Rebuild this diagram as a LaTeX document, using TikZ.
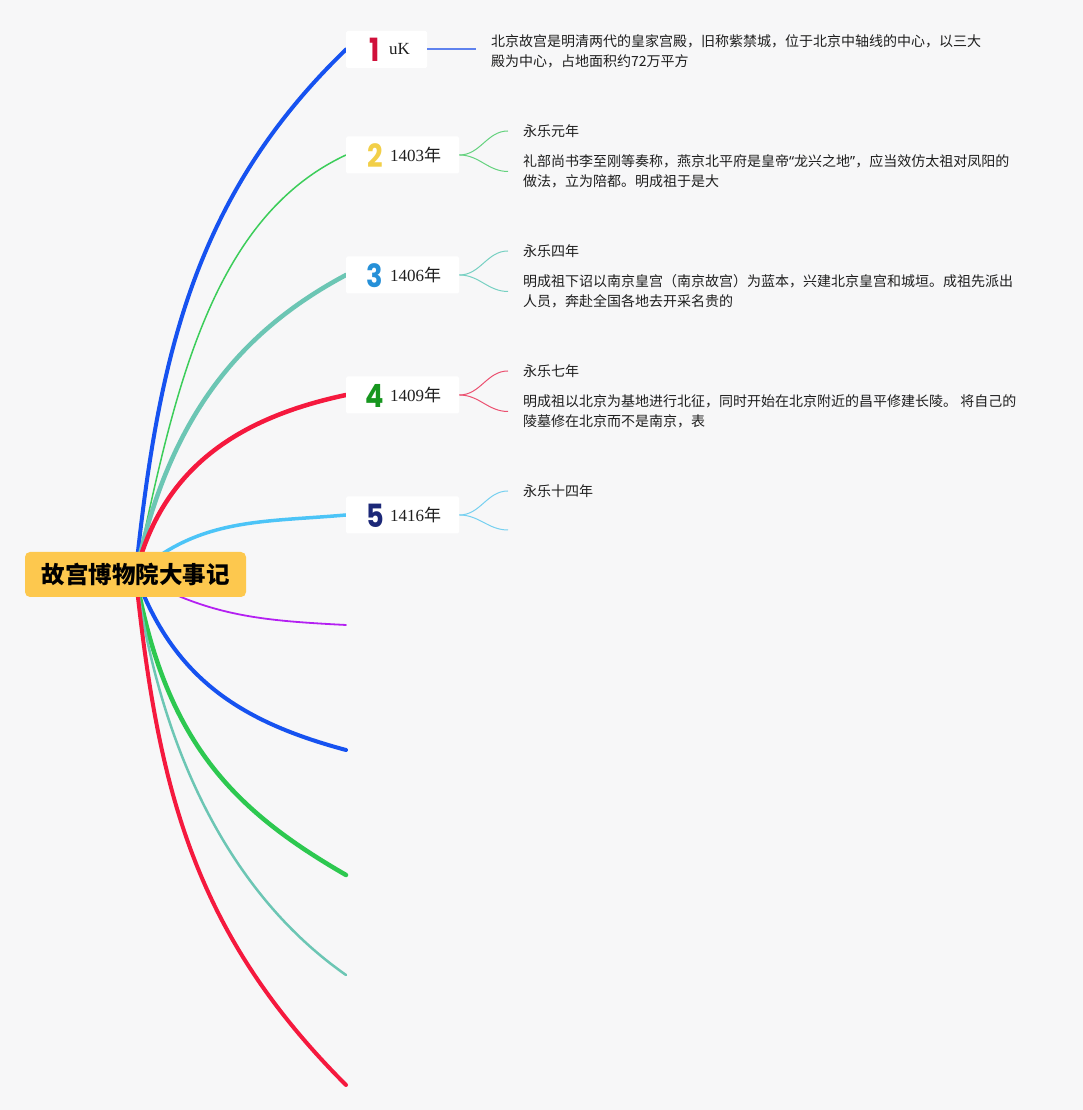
\documentclass[tikz,border=0pt]{standalone}
\usepackage{fontspec}
\usepackage{graphicx}
\setmainfont{Liberation Serif}
\newfontfamily\cjk{Noto Sans CJK SC}
\newfontfamily\latq{Noto Sans}
\newfontfamily\numf{Poppins}
\pgfdeclarelayer{paper}
\pgfdeclarelayer{wires}
\pgfsetlayers{paper,wires,main}
\definecolor{bgc}{RGB}{247,247,248}
\definecolor{rootc}{RGB}{253,200,78}
\definecolor{txtc}{RGB}{30,30,30}
\definecolor{cblue}{RGB}{22,82,240}
\definecolor{cgreenA}{RGB}{60,205,90}
\definecolor{cgreenB}{RGB}{45,200,80}
\definecolor{cteal}{RGB}{108,198,180}
\definecolor{cred}{RGB}{245,25,62}
\definecolor{clblue}{RGB}{76,196,247}
\definecolor{cpurple}{RGB}{180,32,242}
\definecolor{subA}{RGB}{95,130,238}
\definecolor{subB}{RGB}{100,210,126}
\definecolor{subC}{RGB}{118,208,194}
\definecolor{subD}{RGB}{235,80,112}
\definecolor{subE}{RGB}{118,208,240}
\definecolor{dA}{RGB}{208,16,58}
\definecolor{dB}{RGB}{242,207,72}
\definecolor{dC}{RGB}{38,144,216}
\definecolor{dD}{RGB}{23,150,31}
\definecolor{dE}{RGB}{28,40,120}
\newcommand{\dg}[1]{\scalebox{0.85}[1]{#1}}
\newcommand{\qopen}{{\latq “}}
\newcommand{\qclose}{{\latq ”}}
\begin{document}
\begin{tikzpicture}[x=1pt,y=1pt,
  rootbox/.style={fill=rootc,rounded corners=5pt,minimum width=221pt,minimum height=45pt,
    inner sep=0pt,font=\cjk\bfseries\fontsize{23.5}{28}\selectfont,text=black},
  tbox/.style={fill=white,rounded corners=1.5pt,minimum height=37pt,anchor=west,inner sep=0pt},
  digit/.style={font=\numf\bfseries\fontsize{32}{32}\selectfont,inner sep=0pt},
  lab/.style={font=\rmfamily\fontsize{17}{19}\selectfont,anchor=west,inner sep=0pt,text=txtc},
  txt/.style={font=\cjk\fontsize{14}{20}\selectfont,anchor=west,inner xsep=15pt,inner ysep=0pt,
    align=left,text=txtc},
  br/.style={line cap=round},
  subc/.style={line width=1pt}
]
\begin{pgfonlayer}{paper}
\fill[bgc] (0,0) rectangle (1083,1110);
\end{pgfonlayer}
\useasboundingbox (0,0) rectangle (1083,1110);

% root
\node[rootbox] (root) at (135.5,535.5) {故宫博物院大事记};

% topic boxes
\node[tbox,minimum width=81pt] (b1) at (346,1060.5) {};
\node[tbox,minimum width=113pt] (b2) at (346,955) {};
\node[tbox,minimum width=113pt] (b3) at (346,835) {};
\node[tbox,minimum width=113pt] (b4) at (346,715) {};
\node[tbox,minimum width=113pt] (b5) at (346,595) {};

\node[digit,text=dA] (n1) at (375,1060) {\dg{1}};
\node[digit,text=dB] (n2) at (375,954.5) {\dg{2}};
\node[digit,text=dC] (n3) at (375,834.5) {\dg{3}};
\node[digit,text=dD] (n4) at (375,714.5) {\dg{4}};
\node[digit,text=dE] (n5) at (375,594.5) {\dg{5}};

\node[lab] (l1) at (389,1061) {uK};
\node[lab] (l2) at (390,955) {1403{\cjk 年}};
\node[lab] (l3) at (390,835) {1406{\cjk 年}};
\node[lab] (l4) at (390,715) {1409{\cjk 年}};
\node[lab] (l5) at (390,595) {1416{\cjk 年}};

% free ends of the lower branches
\coordinate (e6) at (346,485);
\coordinate (e7) at (346,360);
\coordinate (e8) at (346,235);
\coordinate (e9) at (346,135);
\coordinate (e10) at (346,25);

% main branches
\begin{pgfonlayer}{wires}
\draw[br,cblue,line width=4pt] (root.center) .. controls +(84:214) and +(224:214) .. (b1.west);
\draw[br,cgreenA,line width=1.5pt] (root.center) .. controls +(78:184) and +(205:150) .. (b2.west);
\draw[br,cteal,line width=4.5pt] (root.center) .. controls +(78:150) and +(208:130) .. (b3.west);
\draw[br,cred,line width=4.5pt] (root.center) .. controls +(76:110) and +(192:110) .. (b4.west);
\draw[br,clblue,line width=3.5pt] (root.center) .. controls +(42:85) and +(185:85) .. (b5.west);
\draw[br,cpurple,line width=1.8pt] (root.center) .. controls +(-30:84) and +(177:84) .. (e6);
\draw[br,cblue,line width=4pt] (root.center) .. controls +(-70:110) and +(165:110) .. (e7);
\draw[br,cgreenB,line width=4.5pt] (root.center) .. controls +(-80:170) and +(150:130) .. (e8);
\draw[br,cteal,line width=2.5pt] (root.center) .. controls +(-82:180) and +(145:140) .. (e9);
\draw[br,cred,line width=4pt] (root.center) .. controls +(-84:216) and +(135:216) .. (e10);
\end{pgfonlayer}

% details
\node[txt] (t1) at (476,1058.5) {北京故宫是明清两代的皇家宫殿，旧称紫禁城，位于北京中轴线的中心，以三大\\殿为中心，占地面积约72万平方};
\draw[draw=subA,line width=2pt] (b1.east) -- (t1.west |- b1.east);

\node[txt] (y2) at (508,979) {永乐元年};
\node[txt] (p2) at (508,938.5) {礼部尚书李至刚等奏称，燕京北平府是皇帝\qopen 龙兴之地\qclose ，应当效仿太祖对凤阳的\\做法，立为陪都。明成祖于是大};
\draw[subc,subB] (b2.east) to[out=0,in=180] (y2.west);
\draw[subc,subB] (b2.east) to[out=0,in=180] (p2.west);

\node[txt] (y3) at (508,859) {永乐四年};
\node[txt] (p3) at (508,818.5) {明成祖下诏以南京皇宫（南京故宫）为蓝本，兴建北京皇宫和城垣。成祖先派出\\人员，奔赴全国各地去开采名贵的};
\draw[subc,subC] (b3.east) to[out=0,in=180] (y3.west);
\draw[subc,subC] (b3.east) to[out=0,in=180] (p3.west);

\node[txt] (y4) at (508,739) {永乐七年};
\node[txt] (p4) at (508,698.5) {明成祖以北京为基地进行北征，同时开始在北京附近的昌平修建长陵。 将自己的\\陵墓修在北京而不是南京，表};
\draw[subc,subD] (b4.east) to[out=0,in=180] (y4.west);
\draw[subc,subD] (b4.east) to[out=0,in=180] (p4.west);

\node[txt] (y5) at (508,619) {永乐十四年};
\coordinate (p5) at (508,580);
\draw[subc,subE] (b5.east) to[out=0,in=180] (y5.west);
\draw[subc,subE] (b5.east) to[out=0,in=180] (p5);
\end{tikzpicture}
\end{document}
